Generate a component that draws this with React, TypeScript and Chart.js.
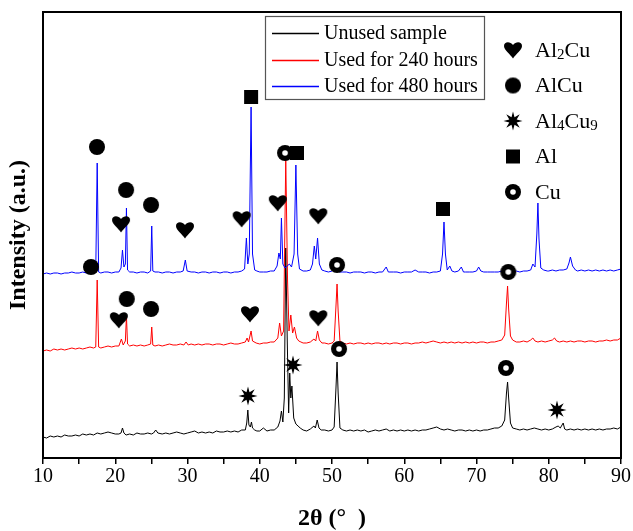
import React, { useEffect, useRef } from 'react';
import { Chart, registerables } from 'chart.js';
Chart.register(...registerables);

// ---- DATA (2θ, intensity a.u.) ----
const SERIES_NAMES = ['Unused sample', 'Used for 240 hours', 'Used for 480 hours'];
const SERIES_COLORS = ['#000000', '#ff0000', '#0000ff'];
const OFFSETS = [0, 87, 164];

const unused: number[][] = [
  [10,21],[10.5,20],[11,22],[11.5,21],[12,22],[12.5,21],[13,23],[13.5,22],[14,22],[14.5,23],[15,22],[15.5,24],[16,23],[16.5,24],[17,23],[17.5,25],[18,24],[18.5,25],[19,26],[19.5,25],[20,24],[20.5,24],[20.8,25],[21.0,30],[21.2,25],[21.5,23],[22,24],[22.5,23],[23,25],[23.5,24],[24,24],[24.5,25],[25,24],[25.3,25],[25.6,28],[25.9,25],[26.5,24],[27,25],[27.5,24],[28,25],[28.5,26],[29,25],[29.5,24],[30,25],[30.5,26],[31,27],[31.5,25],[32,26],[32.5,25],[33,26],[33.5,25],[34,27],[34.5,26],[35,26],[35.5,27],[36,26],[36.5,27],[37,26],[37.5,28],[38,28],[38.2,35],[38.35,48],[38.5,33],[38.7,31],[38.85,36],[39.0,30],[39.3,28],[39.6,27],[40,27],[40.5,30],[41,27],[41.5,28],[42,28],[42.5,31],[42.8,37],[43.0,47],[43.2,36],[43.4,60],[43.6,210],[43.8,120],[44.0,45],[44.15,85],[44.3,60],[44.45,72],[44.7,40],[45.0,34],[45.3,32],[45.6,30],[46,28],[46.5,27],[47,29],[47.5,32],[47.7,30],[47.95,38],[48.2,30],[48.5,28],[49,28],[49.5,27],[50,28],[50.3,31],[50.55,70],[50.7,96],[50.85,65],[51.1,30],[51.5,28],[52,27],[52.5,28],[53,27],[53.5,28],[54,27],[54.5,28],[55,26],[55.5,27],[56,28],[56.5,27],[57,28],[57.5,29],[58,27],[58.5,28],[59,27],[59.5,28],[60,27],[60.5,28],[61,27],[61.5,28],[62,27],[62.5,28],[63,28],[63.5,29],[64,30],[64.5,31],[65,29],[65.5,28],[66,29],[66.5,28],[67,27],[67.5,28],[68,28],[68.5,27],[69,28],[69.5,27],[70,28],[70.5,27],[71,28],[71.5,28],[72,29],[72.5,30],[73,30],[73.5,32],[73.9,38],[74.15,65],[74.3,76],[74.45,60],[74.7,35],[75,30],[75.5,29],[76,28],[76.5,29],[77,28],[77.5,29],[78,30],[78.5,29],[79,28],[79.5,29],[80,28],[80.5,29],[81,31],[81.3,32],[81.6,30],[82.0,35],[82.2,29],[82.5,28],[83,29],[83.5,28],[84,29],[84.5,28],[85,29],[85.5,28],[86,29],[86.5,28],[87,29],[87.5,28],[88,29],[88.5,29],[89,30],[89.5,29],[90,31]
];

const used240: number[][] = [
  [10,20],[10.5,21],[11,20],[11.5,22],[12,21],[12.5,22],[13,21],[13.5,22],[14,23],[14.5,22],[15,23],[15.5,22],[16,23],[16.5,24],[17,23],[17.3,24],[17.5,91],[17.7,24],[18,23],[18.5,24],[19,25],[19.5,24],[20,25],[20.5,25],[20.85,32],[21.1,26],[21.4,30],[21.55,55],[21.7,27],[22,25],[22.5,26],[23,25],[23.5,26],[24,25],[24.5,26],[24.9,27],[25.05,44],[25.2,26],[25.5,25],[26,26],[26.5,25],[27,26],[27.5,27],[28,26],[28.5,26],[29,27],[29.5,26],[29.8,29],[30.1,26],[30.5,27],[31,26],[31.5,27],[32,26],[32.5,27],[33,27],[33.5,26],[34,27],[34.5,27],[35,26],[35.5,27],[36,28],[36.5,27],[37,27],[37.5,28],[38,29],[38.25,33],[38.45,29],[38.8,40],[39.0,30],[39.5,28],[40,27],[40.5,28],[41,28],[41.5,29],[42,29],[42.5,33],[42.75,48],[43.0,35],[43.3,40],[43.6,212],[43.85,90],[44.05,40],[44.3,56],[44.55,38],[44.8,44],[45.1,33],[45.4,30],[45.7,29],[46,28],[46.5,28],[47,29],[47.5,32],[47.75,30],[48.0,40],[48.25,31],[48.6,28],[49,28],[49.5,27],[50,28],[50.3,30],[50.55,65],[50.7,87],[50.85,60],[51.1,30],[51.5,28],[52,27],[52.5,28],[53,27],[53.5,28],[54,28],[54.5,27],[55,28],[55.5,27],[56,28],[56.5,28],[57,27],[57.5,28],[58,27],[58.5,28],[59,28],[59.5,27],[60,28],[60.5,28],[61,27],[61.5,28],[62,28],[62.5,29],[63,28],[63.5,29],[64,30],[64.5,29],[65,28],[65.5,29],[66,28],[66.5,29],[67,28],[67.5,29],[68,28],[68.5,29],[69,28],[69.5,29],[70,28],[70.5,29],[71,29],[71.5,28],[72,29],[72.5,29],[73,30],[73.5,31],[73.9,36],[74.15,68],[74.3,85],[74.45,62],[74.7,35],[75,31],[75.5,29],[76,29],[76.5,30],[77,29],[77.5,31],[77.8,33],[78.1,30],[78.5,29],[79,30],[79.5,29],[80,30],[80.5,31],[80.8,33],[81.1,30],[81.5,29],[82,30],[82.5,29],[83,30],[83.5,29],[84,30],[84.5,30],[85,29],[85.5,30],[86,30],[86.5,29],[87,30],[87.5,30],[88,31],[88.5,30],[89,31],[89.5,31],[90,33]
];

const used480: number[][] = [
  [10,20],[10.5,21],[11,20],[11.5,21],[12,21],[12.5,20],[13,21],[13.5,21],[14,22],[14.5,21],[15,21],[15.5,22],[16,21],[16.5,22],[17,21],[17.3,22],[17.5,131],[17.7,22],[18,21],[18.5,22],[19,22],[19.5,21],[20,22],[20.5,22],[20.8,26],[21.0,44],[21.2,27],[21.4,30],[21.55,86],[21.7,24],[22,22],[22.5,22],[23,21],[23.5,22],[24,22],[24.5,21],[24.9,23],[25.05,68],[25.2,23],[25.5,22],[26,22],[26.5,21],[27,22],[27.5,22],[28,21],[28.5,22],[29,22],[29.4,23],[29.7,34],[29.95,23],[30.5,22],[31,22],[31.5,21],[32,22],[32.5,22],[33,21],[33.5,22],[34,22],[34.5,21],[35,22],[35.5,22],[36,21],[36.5,22],[37,22],[37.5,23],[37.9,25],[38.15,56],[38.35,30],[38.55,40],[38.8,187],[39.0,40],[39.3,24],[39.6,23],[40,22],[40.5,22],[41,22],[41.5,23],[42,23],[42.4,28],[42.65,41],[42.85,35],[43.0,76],[43.2,30],[43.5,26],[43.8,28],[44.1,30],[44.4,27],[44.75,40],[45.0,129],[45.25,40],[45.5,25],[46,23],[46.5,23],[47,24],[47.3,30],[47.55,48],[47.75,35],[48.0,56],[48.25,30],[48.6,24],[49,23],[49.5,22],[50,23],[50.5,26],[51,22],[51.5,22],[52,22],[52.5,21],[53,22],[53.5,22],[54,22],[54.5,21],[55,22],[55.5,22],[56,21],[56.5,22],[57,22],[57.5,27],[57.8,22],[58.5,22],[59,22],[59.5,21],[60,22],[60.5,22],[61,22],[61.5,24],[62,22],[62.5,22],[63,22],[63.5,21],[64,22],[64.5,22],[65,23],[65.3,40],[65.5,72],[65.7,40],[65.95,24],[66.3,28],[66.6,23],[67,22],[67.5,23],[67.9,27],[68.2,22],[68.5,22],[69,22],[69.5,22],[70,23],[70.3,27],[70.6,23],[71,22],[71.5,22],[72,22],[72.5,22],[73,22],[73.5,23],[74,24],[74.4,27],[74.7,23],[75,23],[75.5,23],[76,22],[76.5,23],[77,23],[77.5,24],[77.8,30],[78.1,27],[78.35,60],[78.5,91],[78.65,55],[78.9,26],[79.3,24],[79.8,23],[80,23],[80.5,24],[81,23],[81.5,24],[82,24],[82.5,25],[82.8,31],[83.0,37],[83.3,28],[83.7,24],[84,23],[84.5,24],[85,23],[85.5,24],[86,23],[86.5,24],[87,23],[87.5,24],[88,23],[88.5,24],[89,23],[89.5,24],[90,25]
];

// Phase markers: [2θ, intensity, series index]
const AL2CU_MARKS: number[][] = [[20.8,70,2],[29.65,64,2],[37.5,75,2],[42.5,91,2],[48.1,78,2],[20.5,51,1],[38.65,57,1],[48.1,53,1]];
const ALCU_MARKS: number[][] = [[17.47,147,2],[21.5,104,2],[24.95,89,2],[16.64,104,1],[21.6,72,1],[24.95,62,1]];
const AL4CU9_MARKS: number[][] = [[38.37,62,0],[44.6,93,0],[81.14,48,0]];
const AL_MARKS: number[][] = [[38.8,197,2],[45.15,141,2],[65.36,85,2]];
const CU_MARKS: number[][] = [[43.5,218,1],[50.7,106,1],[74.4,99,1],[50.97,109,0],[74.08,90,0]];

const X_MIN = 10, X_MAX = 90, X_STEP = 5;
const Y_MIN = 0, Y_MAX = 446;
const X_TITLE = '2θ (°  )';
const Y_TITLE = 'Intensity (a.u.)';

const SERIF = '"Liberation Serif", "Times New Roman", serif';

function makeMarker(kind: string): HTMLCanvasElement {
  const c = document.createElement('canvas');
  const S = 20;
  c.width = S; c.height = S;
  const g = c.getContext('2d')!;
  g.fillStyle = '#000';
  const cx = S / 2, cy = S / 2;
  if (kind === 'circle') {
    g.beginPath(); g.arc(cx, cy, 8, 0, Math.PI * 2); g.fill();
  } else if (kind === 'ring') {
    g.beginPath(); g.arc(cx, cy, 8, 0, Math.PI * 2); g.fill();
    g.fillStyle = '#fff';
    g.beginPath(); g.arc(cx, cy, 2.8, 0, Math.PI * 2); g.fill();
  } else if (kind === 'square') {
    g.fillRect(cx - 7, cy - 7, 14, 14);
  } else if (kind === 'star') {
    g.beginPath();
    for (let i = 0; i < 16; i++) {
      const r = i % 2 === 0 ? 9.5 : 4;
      const a = -Math.PI / 2 + (i * Math.PI) / 8;
      const px = cx + r * Math.cos(a), py = cy + r * Math.sin(a);
      if (i === 0) g.moveTo(px, py); else g.lineTo(px, py);
    }
    g.closePath(); g.fill();
  } else if (kind === 'heart') {
    g.beginPath();
    g.moveTo(cx, cy + 8.5);
    g.bezierCurveTo(cx - 3, cy + 4, cx - 9, cy + 0, cx - 9, cy - 4);
    g.bezierCurveTo(cx - 9, cy - 8.5, cx - 3, cy - 9, cx, cy - 5);
    g.bezierCurveTo(cx + 3, cy - 9, cx + 9, cy - 8.5, cx + 9, cy - 4);
    g.bezierCurveTo(cx + 9, cy + 0, cx + 3, cy + 4, cx, cy + 8.5);
    g.closePath(); g.fill();
  }
  return c;
}

export default function App() {
  const ref = useRef<HTMLCanvasElement>(null);
  useEffect(() => {
    const canvas = ref.current!;
    const seriesData = [unused, used240, used480];
    const toPts = (arr: number[][], off: number) => arr.map(([x, v]) => ({ x, y: v + off }));
    const markPts = (arr: number[][]) => arr.map(([x, v, s]) => ({ x, y: v + OFFSETS[s] }));

    const icons: Record<string, HTMLCanvasElement> = {
      heart: makeMarker('heart'),
      circle: makeMarker('circle'),
      star: makeMarker('star'),
      square: makeMarker('square'),
      ring: makeMarker('ring'),
    };

    const lineSets = [2, 1, 0].map((i) => ({
      label: SERIES_NAMES[i],
      data: toPts(seriesData[i], OFFSETS[i]),
      borderColor: SERIES_COLORS[i],
      borderWidth: 1,
      pointRadius: 0,
      showLine: true,
      tension: 0,
      order: 3 - i,
    }));

    const phases = [
      { label: 'Al2Cu', data: AL2CU_MARKS, icon: 'heart', parts: [['Al', 0], ['2', 1], ['Cu', 0]] },
      { label: 'AlCu', data: ALCU_MARKS, icon: 'circle', parts: [['AlCu', 0]] },
      { label: 'Al4Cu9', data: AL4CU9_MARKS, icon: 'star', parts: [['Al', 0], ['4', 1], ['Cu', 0], ['9', 1]] },
      { label: 'Al', data: AL_MARKS, icon: 'square', parts: [['Al', 0]] },
      { label: 'Cu', data: CU_MARKS, icon: 'ring', parts: [['Cu', 0]] },
    ];

    const markSets = phases.map((p) => ({
      label: p.label,
      data: markPts(p.data),
      pointStyle: icons[p.icon],
      pointRadius: 9,
      showLine: false,
      order: 0,
    }));

    const legendPlugin = {
      id: 'customLegend',
      afterDraw(chart: any) {
        const ctx = chart.ctx as CanvasRenderingContext2D;
        const { left, right, top, bottom } = chart.chartArea;
        ctx.save();
        // frame
        ctx.strokeStyle = '#000';
        ctx.lineWidth = 2;
        ctx.strokeRect(left, top, right - left, bottom - top);
        // series legend box
        ctx.fillStyle = '#fff';
        ctx.fillRect(265.5, 16.5, 219, 83);
        ctx.lineWidth = 1.2;
        ctx.strokeStyle = '#555';
        ctx.strokeRect(265.5, 16.5, 219, 83);
        ctx.font = `20px ${SERIF}`;
        ctx.textBaseline = 'middle';
        ctx.fillStyle = '#000';
        for (let i = 0; i < 3; i++) {
          const y = Math.round(33 + i * 26.5) + 0.5;
          ctx.strokeStyle = SERIES_COLORS[i];
          ctx.lineWidth = 1.5;
          ctx.beginPath(); ctx.moveTo(272, y); ctx.lineTo(319, y); ctx.stroke();
          ctx.fillText(SERIES_NAMES[i], 324, y);
        }
        // phase legend
        phases.forEach((p, i) => {
          const y = 50 + i * 35.5;
          const ic = icons[p.icon];
          ctx.drawImage(ic, 513 - ic.width / 2, y - ic.height / 2);
          let x = 535;
          for (const [t, sub] of p.parts as any[]) {
            ctx.font = sub ? `15px ${SERIF}` : `22px ${SERIF}`;
            ctx.fillText(t, x, sub ? y + 5 : y + 1);
            x += ctx.measureText(t).width;
          }
        });
        ctx.restore();
      },
    };

    const chart = new Chart(canvas, {
      type: 'scatter',
      data: { datasets: [...markSets, ...lineSets] as any },
      options: {
        responsive: false,
        animation: false,
        layout: { padding: { left: 0, top: 12, right: 12, bottom: 0 } },
        plugins: { legend: { display: false }, tooltip: { enabled: false } },
        scales: {
          x: {
            type: 'linear',
            min: X_MIN,
            max: X_MAX,
            afterFit: (s: any) => { s.height = 73; },
            ticks: {
              stepSize: X_STEP,
              color: '#000',
              font: { family: SERIF, size: 20 },
              padding: 1,
              maxRotation: 0,
              autoSkip: false,
              callback: (v: any) => (Number(v) % 10 === 0 ? String(v) : ''),
            },
            grid: { display: true, drawOnChartArea: false, drawTicks: true, tickLength: 6, color: '#000', lineWidth: 1.5 },
            border: { display: true, color: '#000', width: 2 },
            title: { display: true, text: X_TITLE, color: '#000', font: { family: SERIF, size: 24, weight: 'bold' }, padding: { top: 0, bottom: -2 } },
          },
          y: {
            type: 'linear',
            min: Y_MIN,
            max: Y_MAX,
            afterFit: (s: any) => { s.width = 43; },
            ticks: { display: false },
            grid: { display: false },
            border: { display: true, color: '#000', width: 2 },
            title: { display: true, text: Y_TITLE, color: '#000', font: { family: SERIF, size: 24, weight: 'bold' }, padding: { top: 4, bottom: 0 } },
          },
        },
      } as any,
      plugins: [legendPlugin],
    });
    return () => chart.destroy();
  }, []);
  return (
    <div style={{ position: 'fixed', left: 0, top: 0, width: 633, height: 531, background: '#fff' }}>
      <canvas ref={ref} width={633} height={531} style={{ width: 633, height: 531 }} />
    </div>
  );
}
